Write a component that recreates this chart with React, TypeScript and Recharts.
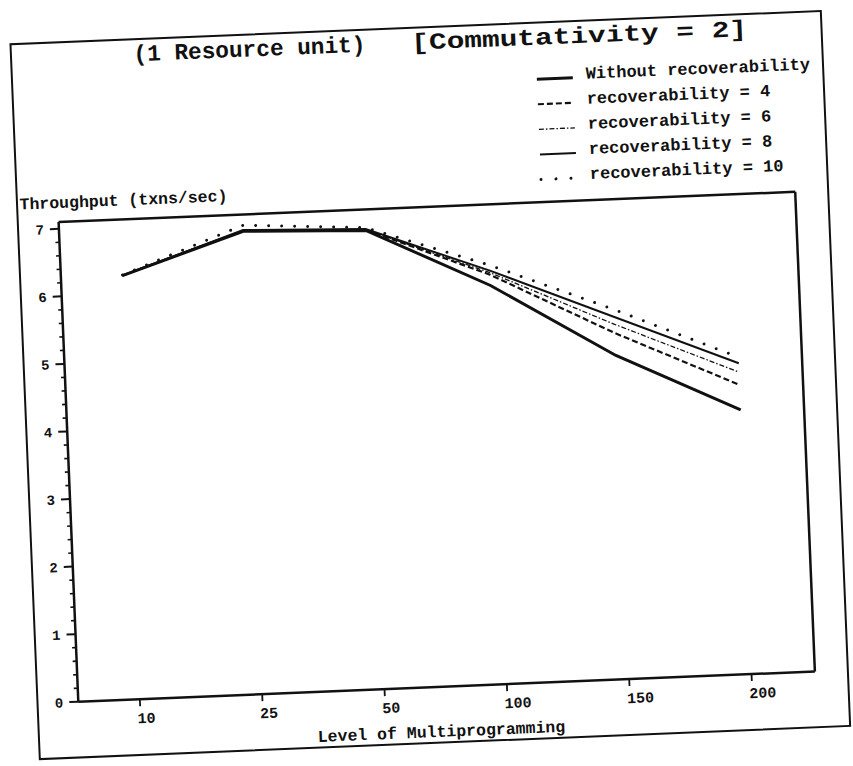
// throughput vs level of multiprogramming, scanned figure (slightly tilted)
import React from 'react';
import { LineChart, Line, XAxis, YAxis, Legend, ReferenceLine } from 'recharts';

const levels = ['10', '25', '50', '100', '150', '200'];
const withoutRec = [6.27, 6.85, 6.79, 5.9, 4.79, 3.91];
const rec4 = [6.27, 6.86, 6.8, 6.06, 5.12, 4.28];
const rec6 = [6.27, 6.86, 6.8, 6.09, 5.25, 4.47];
const rec8 = [6.27, 6.87, 6.81, 6.12, 5.36, 4.6];
const rec10 = [6.28, 6.94, 6.83, 6.2, 5.47, 4.69];
const seriesNames = [
  'Without recoverability',
  'recoverability = 4',
  'recoverability = 6',
  'recoverability = 8',
  'recoverability = 10',
];
const yTicks = [
  0, 0.2, 0.4, 0.6, 0.8, 1, 1.2, 1.4, 1.6, 1.8, 2, 2.2, 2.4, 2.6, 2.8, 3, 3.2, 3.4,
  3.6, 3.8, 4, 4.2, 4.4, 4.6, 4.8, 5, 5.2, 5.4, 5.6, 5.8, 6, 6.2, 6.4, 6.6, 6.8, 7,
];

const data = levels.map((lvl, i) => ({
  lvl,
  w: withoutRec[i],
  r4: rec4[i],
  r6: rec6[i],
  r8: rec8[i],
  r10: rec10[i],
}));

const FONT = '"Liberation Mono", "DejaVu Sans Mono", monospace';
const INK = '#111';

const lineStyles = [
  { key: 'w', width: 3, dash: undefined as string | undefined, cap: 'butt' },
  { key: 'r4', width: 2.2, dash: '6 3', cap: 'butt' },
  { key: 'r6', width: 1.3, dash: '5 2 1.5 2', cap: 'butt' },
  { key: 'r8', width: 2, dash: undefined, cap: 'butt' },
  { key: 'r10', width: 3, dash: '0 13', cap: 'round' },
];

function YTick({ x, y, payload }: any) {
  const v = payload.value;
  const major = Math.abs(v - Math.round(v)) < 1e-6;
  return (
    <g>
      <line x1={x - (major ? 9 : 4)} x2={x} y1={y} y2={y} stroke={INK} strokeWidth={major ? 2 : 1.6} />
      {major && (
        <text x={x - 15} y={y + 5} textAnchor="end" fontFamily={FONT} fontWeight="bold" fontSize={14} fill={INK}>
          {Math.round(v)}
        </text>
      )}
    </g>
  );
}

// the labels in the scan start just left of their tick
function XTick({ x, y, payload }: any) {
  return (
    <g>
      <line x1={x} x2={x} y1={y} y2={y + 7} stroke={INK} strokeWidth={1.8} />
      <text x={x - 3} y={y + 24} textAnchor="start" fontFamily={FONT} fontWeight="bold" fontSize={15} fill={INK}>
        {payload.value}
      </text>
    </g>
  );
}

function LegendBox() {
  return (
    <svg width={300} height={130} style={{ overflow: 'visible' }}>
      {seriesNames.map((name, i) => {
        const s = lineStyles[i];
        const base = 19 + i * 25.1;
        return (
          <g key={name}>
            <line x1={8} x2={44} y1={base - 1.5} y2={base - 1.5} stroke={INK}
              strokeWidth={s.width} strokeDasharray={s.key === 'r10' ? '0 15' : s.dash}
              strokeLinecap={s.cap as any} />
            <text x={57} y={base} fontFamily={FONT} fontWeight="bold" fontSize={17} fill={INK}>{name}</text>
          </g>
        );
      })}
    </svg>
  );
}

export default function App() {
  return (
    <div style={{
      position: 'absolute', left: 0, top: 0, width: 853, height: 766, background: '#fff',
      transform: 'rotate(-2.35deg)', transformOrigin: '78.3px 701.7px',
    }}>
      <svg width={853} height={766} style={{ position: 'absolute', left: 0, top: 0 }}>
        <rect x={37.5} y={42} width={811} height={715.5} fill="none" stroke={INK} strokeWidth={2} />
        <text x={160} y={64} textLength={232} lengthAdjust="spacingAndGlyphs" fontFamily={FONT} fontWeight="bold" fontSize={23} fill={INK}>
          (1 Resource unit)
        </text>
        <text x={438} y={64} textLength={336} lengthAdjust="spacingAndGlyphs" fontFamily={FONT} fontWeight="bold" fontSize={23} fill={INK}>
          [Commutativity = 2]
        </text>
      </svg>
      <div style={{ position: 'absolute', left: 0, top: 0 }}>
        <LineChart width={853} height={766} data={data}
          margin={{ top: 221.6, right: 36.5, bottom: 0, left: 0 }}>
          <XAxis dataKey="lvl" height={64.3} padding={{ left: 61.6, right: 63.4 }}
            axisLine={{ stroke: INK, strokeWidth: 2.5 }} tickLine={false} tickSize={0} tickMargin={0}
            interval={0} tick={<XTick />}
            label={(p: any) => {
              const vb = p.viewBox;
              return (
                <text x={vb.x + vb.width / 2 - 7} y={vb.y + 50} textAnchor="middle" fontFamily={FONT}
                  fontWeight="bold" fontSize={16.5} fill={INK}>Level of Multiprogramming</text>
              );
            }} />
          <YAxis yAxisId="left" width={78.3} domain={[0, 7.1]} ticks={yTicks} interval={0}
            axisLine={{ stroke: INK, strokeWidth: 2.5 }} tickLine={false} tickSize={0} tickMargin={0}
            tick={<YTick />}
            label={(p: any) => {
              const vb = p.viewBox;
              return (
                <text x={40} y={vb.y - 14} fontFamily={FONT} fontWeight="bold" fontSize={16.5} fill={INK}>
                  Throughput (txns/sec)
                </text>
              );
            }} />
          <YAxis yAxisId="right" orientation="right" width={1} domain={[0, 7.1]} tick={false}
            tickLine={false} axisLine={{ stroke: INK, strokeWidth: 2.5 }} />
          <ReferenceLine yAxisId="left" y={7.1} stroke={INK} strokeWidth={2.5} />
          <Legend layout="vertical" align="center" verticalAlign="middle" content={<LegendBox />}
            wrapperStyle={{ left: 554, top: 81, width: 300, height: 130 }} />
          {lineStyles.map((s, i) => (
            <Line key={s.key} yAxisId="left" dataKey={s.key} name={seriesNames[i]} type="linear"
              stroke={INK} strokeWidth={s.width} strokeDasharray={s.dash} strokeLinecap={s.cap as any}
              dot={false} activeDot={false} isAnimationActive={false} />
          ))}
        </LineChart>
      </div>
    </div>
  );
}
